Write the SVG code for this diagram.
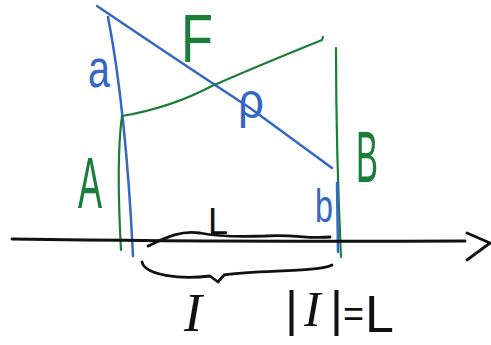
<svg xmlns="http://www.w3.org/2000/svg" width="491" height="345" viewBox="0 0 491 345">
<style>
.b{fill:none;stroke:#3566c6;stroke-width:2.5;stroke-linecap:round;stroke-linejoin:round}
.g{fill:none;stroke:#1b7d3a;stroke-width:2.2;stroke-linecap:round;stroke-linejoin:round}
.k{fill:none;stroke:#111;stroke-width:2.8;stroke-linecap:round;stroke-linejoin:round}
text{font-family:"Liberation Sans","DejaVu Sans",sans-serif}
.serif{font-family:"Liberation Serif","DejaVu Serif",serif;font-style:italic}
.tb{fill:#3566c6}
.tg{fill:#1b7d3a}
.tk{fill:#111}
</style>
<rect width="491" height="345" fill="#fff"/>
<g id="connectors">
<path class="b" d="M97,6 Q180,62 250,108 L332,168"/>
<path class="b" d="M108,17 Q126,110 133,256"/>
<path class="g" d="M122,116 Q116,160 121,250"/>
<path class="g" d="M122,116 Q170,108 212,86 Q260,65 322,40 L323,37"/>
<path class="g" d="M336,48 Q336,150 341,257"/>
<path class="b" d="M337,183 L338,252"/>
<path class="k" d="M12,239 Q200,242 465,241"/>
<path class="k" d="M467,233 L490,243 L467,260"/>
<path class="k" d="M148,246 C165,238 180,230 200,233 C215,236 240,237 265,236 C295,234 305,239 330,237"/>
<path class="k" d="M142,262 C145,275 180,280 210,276 L218,282 L224,275 C260,270 320,272 332,265"/>
</g>
<g id="label-a"><text class="tb" x="88" y="87" font-size="54" textLength="22" lengthAdjust="spacingAndGlyphs">a</text></g>
<g id="label-F"><text class="tg" x="181" y="62" font-size="68" textLength="32" lengthAdjust="spacingAndGlyphs">F</text></g>
<g id="label-rho"><text class="tb" x="238" y="118" font-size="50" textLength="26" lengthAdjust="spacingAndGlyphs">ρ</text></g>
<g id="label-A"><text class="tg" x="78" y="208" font-size="72" textLength="24" lengthAdjust="spacingAndGlyphs">A</text></g>
<g id="label-B"><text class="tg" x="356" y="182" font-size="72" textLength="22" lengthAdjust="spacingAndGlyphs">B</text></g>
<g id="label-b"><text class="tb" x="315" y="222" font-size="46" textLength="18" lengthAdjust="spacingAndGlyphs">b</text></g>
<g id="label-L"><text class="tk" x="208" y="234" font-size="36" textLength="20" lengthAdjust="spacingAndGlyphs">L</text></g>
<g id="label-I"><text class="tk serif" x="184" y="331" font-size="54">I</text></g>
<g id="label-eq"><text class="tk" y="326" font-size="50"><tspan x="285">|</tspan><tspan class="serif" x="304">I</tspan><tspan x="330">|</tspan><tspan x="343" font-size="36">=</tspan><tspan x="365" y="332" font-size="52">L</tspan></text></g>
</svg>
